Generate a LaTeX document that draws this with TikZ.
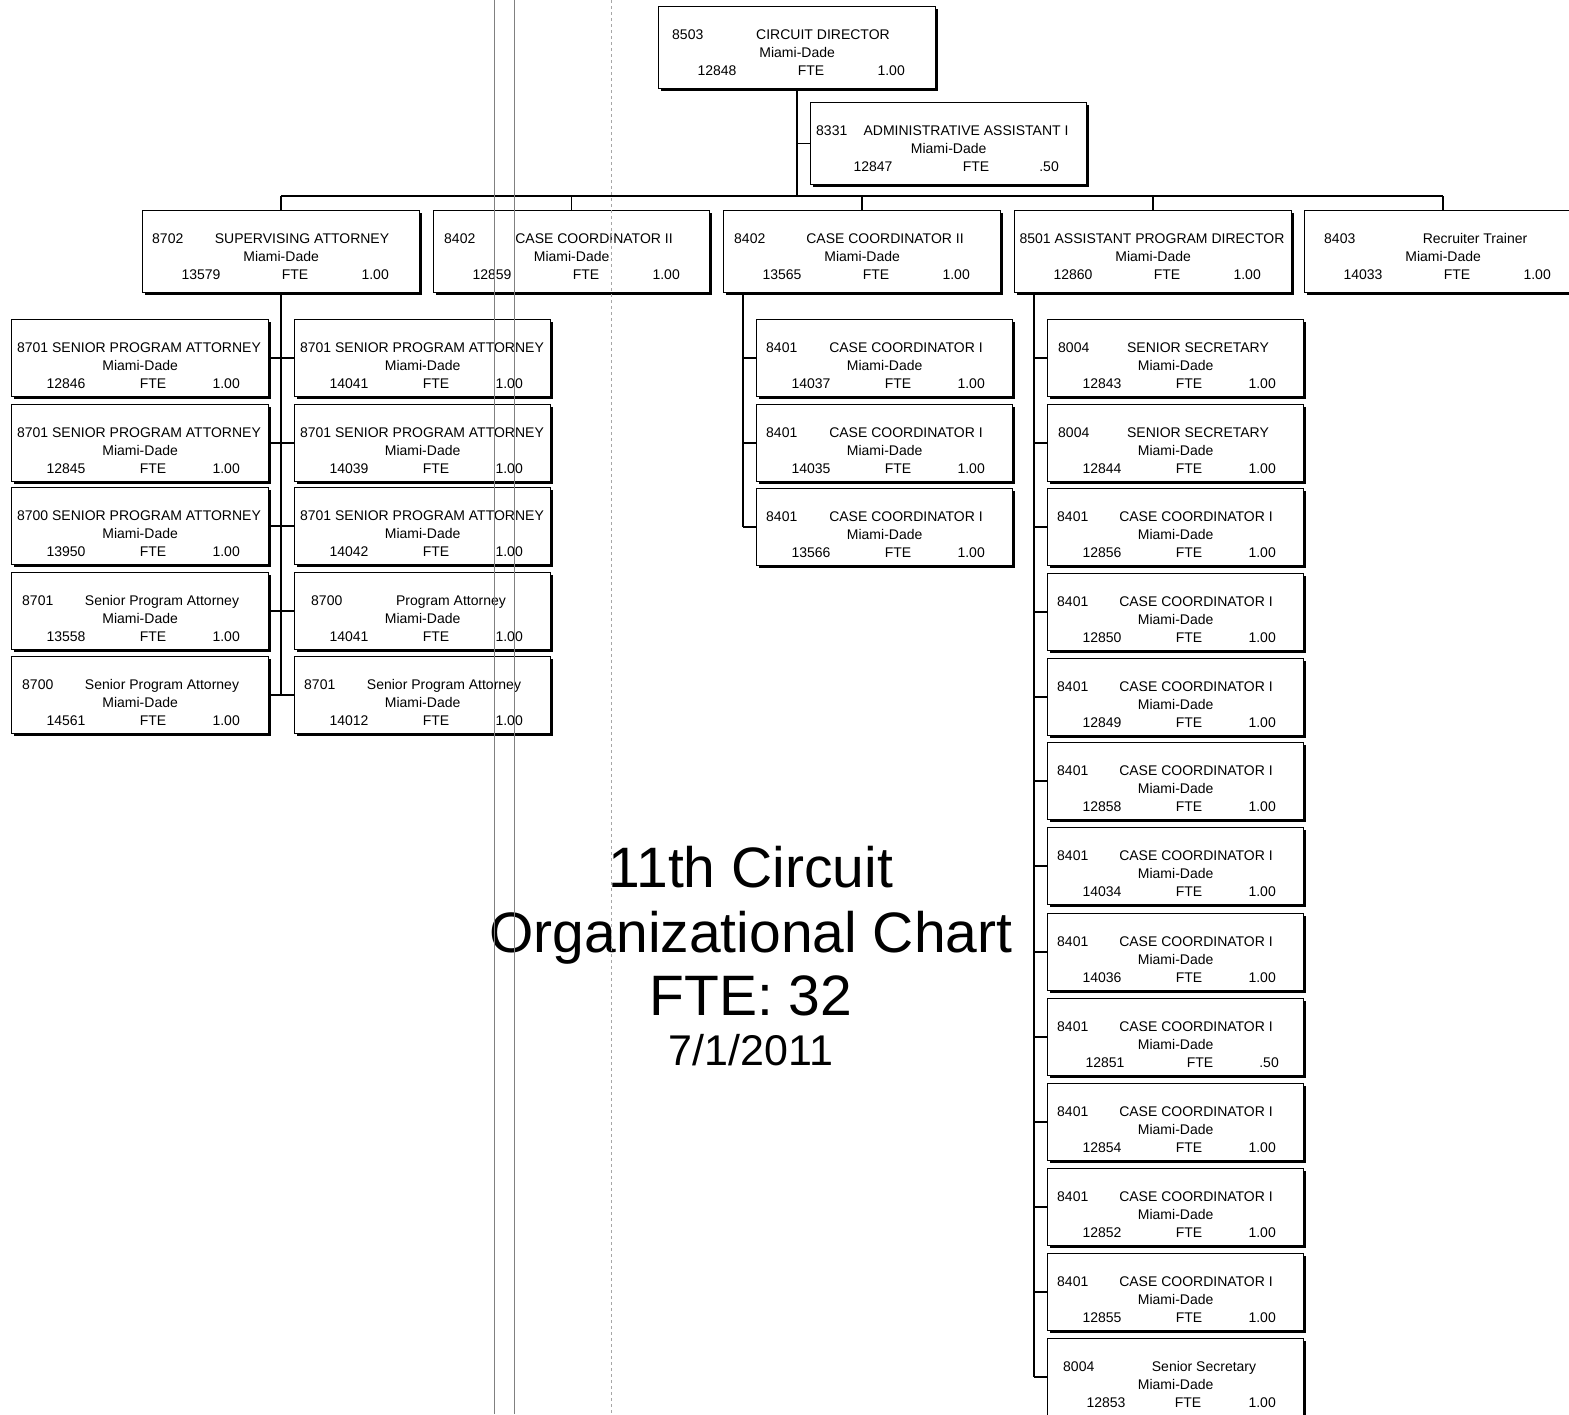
\documentclass[tikz,border=0pt]{standalone}
\usepackage{fontspec}
\setmainfont{Liberation Sans}
\usetikzlibrary{shadows}
\tikzset{
  card/.style={draw=black, line width=1.3pt, fill=white, inner sep=0pt,
    drop shadow={shadow xshift=2.5pt, shadow yshift=-2.5pt, opacity=1, fill=black}},
  txt/.style={inner sep=0pt, font=\fontsize{14}{16}\selectfont},
  conn/.style={line width=1.5pt},
  scanline/.style={gray, line width=1pt},
  scandots/.style={gray!70, line width=0.8pt, dash pattern=on 3pt off 3pt},
  headline/.style={inner sep=0pt, font=\fontsize{57}{60}\selectfont},
  dateline/.style={inner sep=0pt, font=\fontsize{43}{46}\selectfont},
}
% #1 name, #2 x, #3 y, #4 w, #5 h, #6 code, #7 code offset, #8 title, #9 title centre offset
\newcommand{\Card}[9]{%
  \node[card, minimum width=#4pt, minimum height=#5pt, anchor=north west] (#1) at (#2,#3) {};
  \if\relax\detokenize{#6}\relax\else
  \node[txt, anchor=base west] (#1-code) at ([shift={(#7,33)}]#1.north west) {#6};\fi
  \node[txt, anchor=base] (#1-title) at ([shift={(#9,33)}]#1.north west) {#8};
  \node[txt, anchor=base] (#1-loc) at ([shift={(0,51)}]#1.north) {Miami-Dade};
}
% #1 name, #2 number, #3 number offset, #4 FTE offset, #5 value, #6 value right offset
\newcommand{\Foot}[6]{%
  \node[txt, anchor=base] (#1-num) at ([shift={(#3,69)}]#1.north west) {#2};
  \node[txt, anchor=base] (#1-fte) at ([shift={(#4,69)}]#1.north west) {FTE};
  \node[txt, anchor=base east] (#1-val) at ([shift={(#6,69)}]#1.north west) {#5};
}
\newcommand{\SmallFoot}[3]{\Foot{#1}{#2}{55}{142}{#3}{229}}
\newcommand{\BigFoot}[3]{\Foot{#1}{#2}{59}{153}{#3}{247}}
\begin{document}
\begin{tikzpicture}[x=1pt, y=-1pt]
\useasboundingbox (0,0) rectangle (1569,1414);
\fill[white] (0,0) rectangle (1569,1414);
\clip (0,0) rectangle (1569,1414);

% top level
\Card{dir}{658}{6}{277}{82}{8503}{14}{CIRCUIT DIRECTOR}{165}
\BigFoot{dir}{12848}{1.00}
\Card{adm}{810}{102}{276}{82}{8331}{6}{ADMINISTRATIVE ASSISTANT I}{156}
\Foot{adm}{12847}{63}{166}{.50}{249}

% second level
\Card{sup}{142}{210}{277}{82}{8702}{10}{SUPERVISING ATTORNEY}{160}
\BigFoot{sup}{13579}{1.00}
\Card{cca}{433}{210}{276}{82}{8402}{11}{CASE COORDINATOR II}{161}
\BigFoot{cca}{12859}{1.00}
\Card{ccb}{723}{210}{277}{82}{8402}{11}{CASE COORDINATOR II}{162}
\BigFoot{ccb}{13565}{1.00}
\Card{apd}{1014}{210}{277}{82}{}{0}{8501 ASSISTANT PROGRAM DIRECTOR}{138}
\BigFoot{apd}{12860}{1.00}
\Card{rec}{1304}{210}{277}{82}{8403}{20}{Recruiter Trainer}{171}
\BigFoot{rec}{14033}{1.00}

% left column A
\Card{a1}{11}{319}{257}{77}{}{0}{8701 SENIOR PROGRAM ATTORNEY}{128}
\SmallFoot{a1}{12846}{1.00}
\Card{a2}{11}{404}{257}{77}{}{0}{8701 SENIOR PROGRAM ATTORNEY}{128}
\SmallFoot{a2}{12845}{1.00}
\Card{a3}{11}{487}{257}{77}{}{0}{8700 SENIOR PROGRAM ATTORNEY}{128}
\SmallFoot{a3}{13950}{1.00}
\Card{a4}{11}{572}{257}{77}{8701}{11}{Senior Program Attorney}{151}
\SmallFoot{a4}{13558}{1.00}
\Card{a5}{11}{656}{257}{77}{8700}{11}{Senior Program Attorney}{151}
\SmallFoot{a5}{14561}{1.00}

% left column B
\Card{b1}{294}{319}{256}{77}{}{0}{8701 SENIOR PROGRAM ATTORNEY}{128}
\SmallFoot{b1}{14041}{1.00}
\Card{b2}{294}{404}{256}{77}{}{0}{8701 SENIOR PROGRAM ATTORNEY}{128}
\SmallFoot{b2}{14039}{1.00}
\Card{b3}{294}{487}{256}{77}{}{0}{8701 SENIOR PROGRAM ATTORNEY}{128}
\SmallFoot{b3}{14042}{1.00}
\Card{b4}{294}{572}{256}{77}{8700}{17}{Program Attorney}{157}
\SmallFoot{b4}{14041}{1.00}
\Card{b5}{294}{656}{256}{77}{8701}{10}{Senior Program Attorney}{150}
\SmallFoot{b5}{14012}{1.00}

% middle column
\Card{m1}{756}{319}{256}{77}{8401}{10}{CASE COORDINATOR I}{150}
\SmallFoot{m1}{14037}{1.00}
\Card{m2}{756}{404}{256}{77}{8401}{10}{CASE COORDINATOR I}{150}
\SmallFoot{m2}{14035}{1.00}
\Card{m3}{756}{488}{256}{77}{8401}{10}{CASE COORDINATOR I}{150}
\SmallFoot{m3}{13566}{1.00}

% right column
\Card{r1}{1047}{319}{256}{77}{8004}{11}{SENIOR SECRETARY}{151}
\SmallFoot{r1}{12843}{1.00}
\Card{r2}{1047}{404}{256}{77}{8004}{11}{SENIOR SECRETARY}{151}
\SmallFoot{r2}{12844}{1.00}
\Card{r3}{1047}{488}{256}{77}{8401}{10}{CASE COORDINATOR I}{149}
\SmallFoot{r3}{12856}{1.00}
\Card{r4}{1047}{573}{256}{77}{8401}{10}{CASE COORDINATOR I}{149}
\SmallFoot{r4}{12850}{1.00}
\Card{r5}{1047}{658}{256}{77}{8401}{10}{CASE COORDINATOR I}{149}
\SmallFoot{r5}{12849}{1.00}
\Card{r6}{1047}{742}{256}{77}{8401}{10}{CASE COORDINATOR I}{149}
\SmallFoot{r6}{12858}{1.00}
\Card{r7}{1047}{827}{256}{77}{8401}{10}{CASE COORDINATOR I}{149}
\SmallFoot{r7}{14034}{1.00}
\Card{r8}{1047}{913}{256}{77}{8401}{10}{CASE COORDINATOR I}{149}
\SmallFoot{r8}{14036}{1.00}
\Card{r9}{1047}{998}{256}{77}{8401}{10}{CASE COORDINATOR I}{149}
\Foot{r9}{12851}{58}{153}{.50}{232}
\Card{r10}{1047}{1083}{256}{77}{8401}{10}{CASE COORDINATOR I}{149}
\SmallFoot{r10}{12854}{1.00}
\Card{r11}{1047}{1168}{256}{77}{8401}{10}{CASE COORDINATOR I}{149}
\SmallFoot{r11}{12852}{1.00}
\Card{r12}{1047}{1253}{256}{77}{8401}{10}{CASE COORDINATOR I}{149}
\SmallFoot{r12}{12855}{1.00}
\Card{r13}{1047}{1338}{256}{77}{8004}{16}{Senior Secretary}{157}
\Foot{r13}{12853}{59}{141}{1.00}{229}

% connectors
\coordinate (bus) at (0,196);
\draw[conn] (dir.south) -- (dir.south |- bus);
\draw[conn] (dir.south |- adm.west) -- (adm.west);
\draw[conn] (sup.north |- bus) -- (rec.north |- bus);
\foreach \n in {sup,cca,ccb,apd,rec} \draw[conn] (\n.north |- bus) -- (\n.north);

\draw[conn] (sup.south) -- (sup.south |- a5.east);
\foreach \i in {1,...,5} \draw[conn] (a\i.east) -- (b\i.west);

\coordinate (ms) at ([xshift=20pt]ccb.south west);
\draw[conn] (ms) -- (ms |- m3.west);
\foreach \i in {1,2,3} \draw[conn] (ms |- m\i.west) -- (m\i.west);

\coordinate (rs) at ([xshift=20pt]apd.south west);
\draw[conn] (rs) -- (rs |- r13.west);
\foreach \i in {1,...,13} \draw[conn] (rs |- r\i.west) -- (r\i.west);

% title
\node[headline, anchor=base] (t1) at (751,887) {11th Circuit};
\node[headline, anchor=base] (t2) at (751,952) {Organizational Chart};
\node[headline, anchor=base] (t3) at (751,1015) {FTE: 32};
\node[dateline, anchor=base] (t4) at (751,1065) {7/1/2011};

% scan artefact lines
\draw[scanline] (494,0) -- (494,1414);
\draw[scanline] (514,0) -- (514,1414);
\draw[scandots] (611,0) -- (611,1414);
\end{tikzpicture}
\end{document}
